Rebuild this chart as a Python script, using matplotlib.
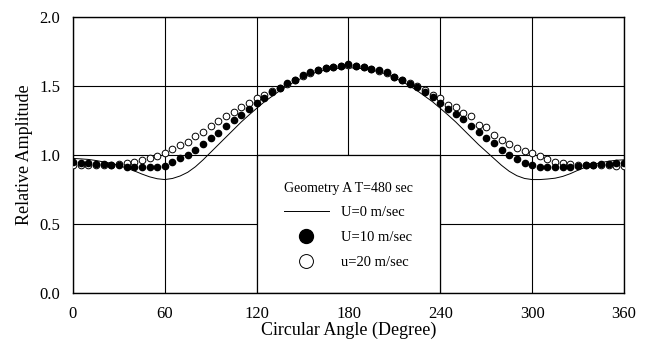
import numpy as np
import matplotlib
matplotlib.use("Agg")
import matplotlib.pyplot as plt
from matplotlib.lines import Line2D
from matplotlib.patches import Rectangle

plt.rcParams['font.family'] = ['Liberation Serif', 'DejaVu Serif']

# circular angle (degree), one reading every 5 degrees
angle = np.arange(0, 361, 5)

# U = 0 m/sec (solid line)
amp_u0 = [0.975, 0.972, 0.968, 0.960, 0.950, 0.940, 0.925, 0.905, 0.885, 0.862,
          0.842, 0.828, 0.822, 0.830, 0.848, 0.875, 0.915, 0.965, 1.020, 1.075,
          1.130, 1.185, 1.240, 1.290, 1.338, 1.385, 1.425, 1.465, 1.500, 1.533,
          1.560, 1.585, 1.603, 1.616, 1.625, 1.630, 1.632, 1.630, 1.625, 1.616,
          1.603, 1.585, 1.560, 1.533, 1.500, 1.465, 1.425, 1.385, 1.338, 1.290,
          1.240, 1.185, 1.130, 1.075, 1.025, 0.975, 0.925, 0.882, 0.850, 0.830,
          0.822, 0.822, 0.826, 0.832, 0.845, 0.865, 0.890, 0.912, 0.932, 0.945,
          0.955, 0.962, 0.965]

# U = 10 m/sec (filled circles)
amp_u10 = [0.952, 0.944, 0.940, 0.935, 0.932, 0.928, 0.925, 0.910, 0.910, 0.912,
           0.912, 0.912, 0.920, 0.950, 0.975, 1.000, 1.036, 1.080, 1.120, 1.160,
           1.210, 1.250, 1.290, 1.330, 1.380, 1.415, 1.460, 1.488, 1.520, 1.545,
           1.578, 1.600, 1.617, 1.633, 1.640, 1.648, 1.657, 1.648, 1.640, 1.625,
           1.615, 1.600, 1.565, 1.540, 1.515, 1.495, 1.460, 1.420, 1.375, 1.330,
           1.297, 1.260, 1.210, 1.164, 1.125, 1.085, 1.036, 1.000, 0.971, 0.944,
           0.928, 0.915, 0.910, 0.910, 0.912, 0.912, 0.920, 0.928, 0.928, 0.935,
           0.935, 0.940, 0.945]

# u = 20 m/sec (open circles)
amp_u20 = [0.928, 0.928, 0.928, 0.925, 0.928, 0.927, 0.935, 0.940, 0.948, 0.964,
           0.976, 0.995, 1.015, 1.040, 1.070, 1.096, 1.140, 1.170, 1.210, 1.246,
           1.285, 1.310, 1.345, 1.375, 1.410, 1.435, 1.465, 1.488, 1.518, 1.543,
           1.572, 1.597, 1.613, 1.628, 1.638, 1.645, 1.650, 1.645, 1.635, 1.622,
           1.610, 1.595, 1.565, 1.540, 1.520, 1.500, 1.470, 1.435, 1.410, 1.365,
           1.350, 1.307, 1.283, 1.217, 1.205, 1.145, 1.109, 1.080, 1.050, 1.029,
           1.012, 0.993, 0.969, 0.952, 0.940, 0.935, 0.928, 0.928, 0.930, 0.928,
           0.925, 0.922, 0.920]

xticks = [0, 60, 120, 180, 240, 300, 360]
yticks = [0.0, 0.5, 1.0, 1.5, 2.0]

fig = plt.figure(figsize=(6.5, 3.54), dpi=100)
ax = fig.add_axes([0.1123, 0.1723, 0.8477, 0.7797])

ax.plot(angle, amp_u0, color='black', lw=0.7, zorder=3)
ax.plot(angle, amp_u10, 'o', ms=4.5, color='black', zorder=4)
ax.plot(angle, amp_u20, 'o', ms=4.8, mfc='white', mec='black', mew=0.7, zorder=3)

ax.set_xlim(0, 360)
ax.set_ylim(0, 2.0)
ax.set_xticks(xticks)
ax.set_yticks(yticks)
ax.set_yticklabels(['%.1f' % v for v in yticks])
ax.tick_params(length=0, labelsize=12, pad=9)
ax.grid(True, color='black', lw=0.8)
ax.set_axisbelow(True)
for s in ax.spines.values():
    s.set_linewidth(1.0)

ax.set_xlabel('Circular Angle (Degree)', fontsize=13, labelpad=0)
ax.set_ylabel('Relative Amplitude', fontsize=13, labelpad=5)

# white legend box covering the grid
ax.add_patch(Rectangle((120, 0), 120, 1.0, facecolor='white', edgecolor='black',
                       lw=0.9, zorder=2))

handles = [Line2D([], [], color='black', lw=0.7),
           Line2D([], [], ls='none', marker='o', ms=10, color='black'),
           Line2D([], [], ls='none', marker='o', ms=10, mfc='white', mec='black', mew=0.7)]
labels = ['U=0 m/sec', 'U=10 m/sec', 'u=20 m/sec']
leg = ax.legend(handles, labels, title='Geometry A T=480 sec', frameon=False,
                loc='upper left', bbox_to_anchor=(0.372, 0.425), fontsize=10.5,
                title_fontsize=10, handlelength=3.1, handletextpad=0.8,
                labelspacing=0.8, borderaxespad=0)
leg.set_zorder(5)
leg._legend_box.align = 'left'

fig.savefig('out.png', dpi=100)
